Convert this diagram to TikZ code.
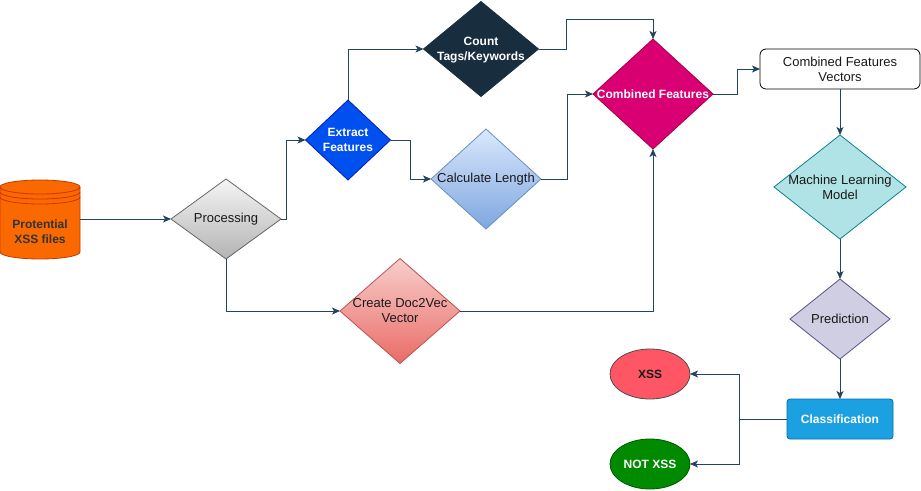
\documentclass[tikz,border=0pt]{standalone}
\usepackage{fontspec}
\setmainfont{Liberation Sans}
\usepackage{tikz}
\usetikzlibrary{shapes.geometric, positioning, arrows.meta}
\usepackage{xcolor}
\definecolor{EdgeBlue}{HTML}{23445D}
\definecolor{SrcOrange}{HTML}{FA6800}
\definecolor{SrcOrangeDk}{HTML}{C73500}
\definecolor{ProcTop}{HTML}{F5F5F5}
\definecolor{ProcBot}{HTML}{B3B3B3}
\definecolor{ProcDk}{HTML}{666666}
\definecolor{ExtractBlue}{HTML}{0050EF}
\definecolor{ExtractBlueDk}{HTML}{001DBC}
\definecolor{CountNavy}{HTML}{182E3E}
\definecolor{CalcTop}{HTML}{DAE8FC}
\definecolor{CalcBot}{HTML}{7EA6E0}
\definecolor{CalcDk}{HTML}{6C8EBF}
\definecolor{VecTop}{HTML}{F8CECC}
\definecolor{VecBot}{HTML}{EA6B66}
\definecolor{VecDk}{HTML}{B85450}
\definecolor{CombPink}{HTML}{D80073}
\definecolor{CombPinkDk}{HTML}{A50040}
\definecolor{ModelTeal}{HTML}{B0E3E6}
\definecolor{ModelTealDk}{HTML}{0E8088}
\definecolor{PredLilac}{HTML}{D0CEE2}
\definecolor{PredLilacDk}{HTML}{56517E}
\definecolor{ClassBlue}{HTML}{1BA1E2}
\definecolor{ClassBlueDk}{HTML}{006EAF}
\definecolor{XssRed}{HTML}{FF5665}
\definecolor{NotXssGreen}{HTML}{008A00}
\definecolor{NotXssGreenDk}{HTML}{005700}

\begin{document}
\begin{tikzpicture}[x=1pt, y=-1pt,
    txt/.style={font=\fontsize{13}{15}\selectfont, align=center, text=black!90},
    btxt/.style={txt, font=\fontsize{12}{15}\selectfont\bfseries},
    wtxt/.style={btxt, text=white},
    diam/.style={diamond, draw, line width=0.8pt, inner sep=0pt, outer sep=0pt},
    box/.style={rectangle, draw, line width=0.8pt, inner sep=0pt, outer sep=0pt},
    oval/.style={ellipse, draw, line width=0.8pt, inner sep=0pt, outer sep=0pt,
        minimum width=80pt, minimum height=50pt},
    edge/.style={draw=EdgeBlue, line width=1pt,
        -{Stealth[length=8pt, width=7pt, inset=2pt]}}]
    \useasboundingbox (0,0) rectangle (921,490);

    % data store
    \filldraw[fill=SrcOrange, draw=SrcOrangeDk, line width=0.8pt]
        (0,187) -- (0,252) arc[start angle=180, end angle=0, x radius=40, y radius=7]
        -- (80,187) arc[start angle=0, end angle=-180, x radius=40, y radius=7] -- cycle;
    \foreach \dy in {0,5,10} {
        \draw[SrcOrangeDk, line width=0.8pt] (0,187+\dy)
            arc[start angle=180, end angle=0, x radius=40, y radius=7];
    }
    \node[minimum width=80pt, minimum height=72pt, inner sep=0pt, outer sep=0pt,
        label={[btxt, text=black!80, yshift=-13pt]center:{Protential\\XSS files}}]
        (src) at (40,219) {};

    % diamonds
    \node[diam, draw=ProcDk, top color=ProcTop, bottom color=ProcBot,
        minimum width=110pt, minimum height=80pt,
        label={[txt]center:Processing}] (proc) at (226,219) {};
    \node[diam, fill=ExtractBlue, draw=ExtractBlueDk,
        minimum width=85pt, minimum height=80pt,
        label={[wtxt]center:{Extract\\Features}}] (extr) at (348,140) {};
    \node[diam, fill=CountNavy, draw=CountNavy,
        minimum width=115pt, minimum height=95pt,
        label={[wtxt, yshift=-1pt]center:{Count\\Tags/Keywords}}] (cnt) at (481,49) {};
    \node[diam, draw=CalcDk, top color=CalcTop, bottom color=CalcBot,
        minimum width=110pt, minimum height=100pt,
        label={[txt]center:Calculate Length}] (calc) at (486,179) {};
    \node[diam, draw=VecDk, top color=VecTop, bottom color=VecBot,
        minimum width=120pt, minimum height=105pt,
        label={[txt]center:{Create Doc2Vec\\Vector}}] (d2v) at (400,311) {};
    \node[diam, fill=CombPink, draw=CombPinkDk,
        minimum width=120pt, minimum height=110pt,
        label={[wtxt]center:Combined Features}] (comb) at (653,94) {};
    \node[diam, fill=ModelTeal, draw=ModelTealDk,
        minimum width=132pt, minimum height=104pt,
        label={[txt]center:{Machine Learning\\Model}}] (ml) at (840,187) {};
    \node[diam, fill=PredLilac, draw=PredLilacDk,
        minimum width=100pt, minimum height=80pt,
        label={[txt]center:Prediction}] (pred) at (840,319) {};

    % boxes and outcomes
    \node[box, txt, rounded corners=6pt, fill=white, draw=black,
        minimum width=160pt, minimum height=40pt] (vec) at (840,69)
        {Combined Features\\Vectors};
    \node[box, wtxt, rounded corners=3pt, fill=ClassBlue, draw=ClassBlueDk,
        minimum width=106pt, minimum height=40pt] (cls) at (840,419) {Classification};
    \node[oval, btxt, fill=XssRed, draw=black!70] (xss) at (650,374) {XSS};
    \node[oval, wtxt, fill=NotXssGreen, draw=NotXssGreenDk] (nxss) at (650,464) {NOT XSS};

    % connectors
    \draw[edge] (src.east) -- (proc.west);
    \draw[edge] (proc.east) -- ++(5,0) |- (extr.west);
    \draw[edge] (extr.north) |- (cnt.west);
    \draw[edge] (extr.east) -- ++(20,0) |- (calc.west);
    \draw[edge] (proc.south) |- (d2v.west);
    \draw[edge] (cnt.east) -| ++(28,-30) -| (comb.north);
    \draw[edge] (calc.east) -- ++(26,0) |- (comb.west);
    \draw[edge] (d2v.east) -| (comb.south);
    \draw[edge] (comb.east) -- ++(24,0) |- (vec.west);
    \draw[edge] (vec.south) -- (ml.north);
    \draw[edge] (ml.south) -- (pred.north);
    \draw[edge] (pred.south) -- (cls.north);
    \draw[edge] (cls.west) -- ++(-48,0) coordinate (split) |- (xss.east);
    \draw[edge] (split) |- (nxss.east);
\end{tikzpicture}
\end{document}
